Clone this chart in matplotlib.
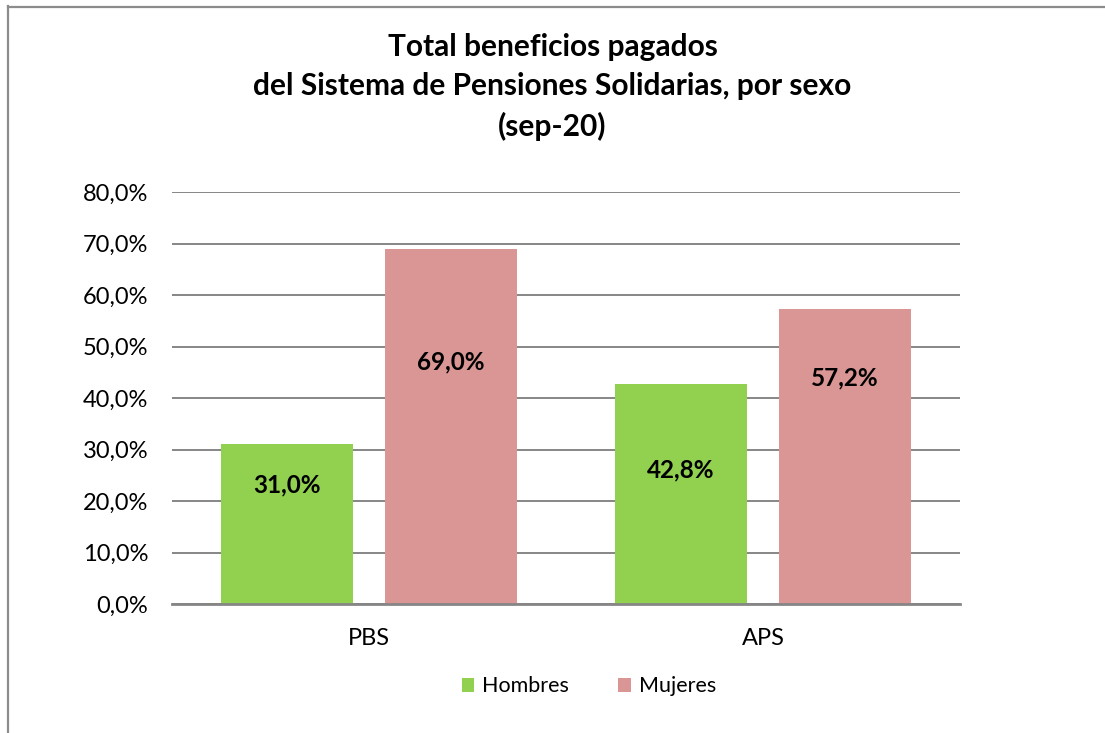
import numpy as np
import matplotlib
matplotlib.use('Agg')
import matplotlib.pyplot as plt
from matplotlib.lines import Line2D

plt.rcParams['font.family'] = ['Lato', 'DejaVu Sans']

categories = ['PBS', 'APS']
series = ['Hombres', 'Mujeres']
hombres = [31.0, 42.8]
mujeres = [69.0, 57.2]
labels_h = ['31,0%', '42,8%']
labels_m = ['69,0%', '57,2%']
yticks = [0, 10, 20, 30, 40, 50, 60, 70, 80]
ytick_labels = ['0,0%', '10,0%', '20,0%', '30,0%', '40,0%', '50,0%', '60,0%', '70,0%', '80,0%']
# where the data labels sit (data units)
label_y_h = [23.1, 26.0]
label_y_m = [47.0, 43.9]

green = '#92D050'
pink = '#D99694'
grid_c = '#868686'

fig = plt.figure(figsize=(11.05, 7.33), dpi=100)
ax = fig.add_axes([172/1105, 1-604/733, (960-172)/1105, (604-192)/733])

x = np.arange(len(categories))
w = 0.333
off = 0.208
ax.bar(x - off, hombres, w, color=green, label=series[0], zorder=3)
ax.bar(x + off, mujeres, w, color=pink, label=series[1], zorder=3)

for i in range(len(categories)):
    ax.text(x[i] - off, label_y_h[i], labels_h[i], ha='center', va='center',
            fontsize=17.5, fontweight='bold', zorder=4)
    ax.text(x[i] + off, label_y_m[i], labels_m[i], ha='center', va='center',
            fontsize=17.5, fontweight='bold', zorder=4)

ax.set_xlim(-0.5, 1.5)
ax.set_ylim(0, 80)
ax.set_yticks(yticks)
ax.set_yticklabels(ytick_labels)
ax.set_xticks(x)
ax.set_xticklabels(categories)
ax.tick_params(axis='y', length=0, pad=17, labelsize=17)
ax.tick_params(axis='x', length=0, pad=17, labelsize=17)
ax.yaxis.grid(True, color=grid_c, linewidth=1.4, zorder=0)
for s in ['top', 'right', 'left']:
    ax.spines[s].set_visible(False)
ax.spines['bottom'].set_color(grid_c)
ax.spines['bottom'].set_linewidth(2)
ax.spines['bottom'].set_zorder(5)

fig.text(0.5, 1-87/733, 'Total beneficios pagados\ndel Sistema de Pensiones Solidarias, por sexo\n(sep-20)',
         ha='center', va='center', fontsize=21.5, fontweight='bold', linespacing=1.47)

ax.legend(loc='center', bbox_to_anchor=(0.529, -0.2), ncol=2, frameon=False,
          fontsize=15.5, handlelength=0.6, handleheight=0.6, columnspacing=2.3,
          handletextpad=0.35)

# chart border (only left and top visible in crop)
fig.add_artist(Line2D([7.5/1105, 7.5/1105], [0, 1-6/733], transform=fig.transFigure,
                      color='#8C8C8C', linewidth=1.6))
fig.add_artist(Line2D([7.5/1105, 1], [1-6.5/733, 1-6.5/733], transform=fig.transFigure,
                      color='#8C8C8C', linewidth=1.6))

plt.savefig('out.png', dpi=100)
plt.close()
